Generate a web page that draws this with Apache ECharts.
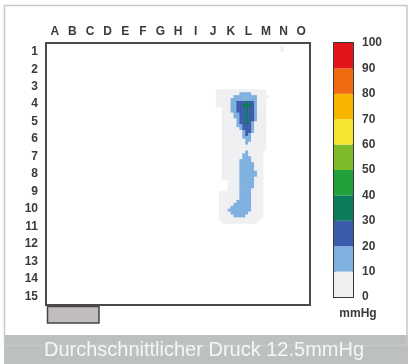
<!DOCTYPE html>
<html><head><meta charset="utf-8">
<script src="https://cdn.jsdelivr.net/npm/echarts@6/dist/echarts.min.js"></script>
<style>html,body{margin:0;padding:0;background:#fff}#c{width:408px;height:364px}</style>
</head><body><div id="c"></div>
<script>
// ---------- data ----------
const columnLabels = ['A','B','C','D','E','F','G','H','I','J','K','L','M','N','O'];
const rowLabels = ['1','2','3','4','5','6','7','8','9','10','11','12','13','14','15'];
const captionText = 'Durchschnittlicher Druck 12.5mmHg';
const unitText = 'mmHg';
const bandLowerBounds = [0,10,20,30,40,50,60,70,80,90];
const bandColors = ['#f0f0f3','#7fb0e0','#3b5cab','#0b7b5c','#22a03c','#7dbb2a','#f5e530','#f7b500','#f06a12','#e3141a'];
// fine sensor grid: 6 fine cells per labelled cell
const fineCellsPerAxis = 90;
// pressure bands, one char per fine cell
// '.' = no contact, '1' = 0-10, '2' = 10-20, '3' = 20-30, '4' = 30-40 mmHg
const mapColumnOffset = 57;
const mapRowOffset = 16;
const pressureRows = [
  '.11111111111111111..', // r16
  '.11111111222211111..',
  '.111111222222221111.',
  '.11111222222222111..',
  '.11111223334332111..', // r20
  '.11111223344432111..',
  '...111223334332111..',
  '...111223334332111..',
  '...111122334332111..',
  '...111122334332111..', // r25
  '...111112334332111..',
  '...111112334321111..',
  '...111112233321111..',
  '...111111233321111..',
  '...111111123321111..', // r30
  '...111111123211111..',
  '...111111122211111..',
  '...111111112211111..',
  '...111111112111111..',
  '...111111111111111..', // r35
  '...111111111111111..',
  '...11111111211111...',
  '...11111112211111...',
  '...11111112221111...',
  '...11111122221111...', // r40
  '...11111122222111...',
  '...11111122222111...',
  '...11111122222111...',
  '...11111122222211...',
  '...11111122222211...', // r45
  '...11111122222111...',
  '.....111122222111...',
  '.....111122222111...',
  '.....111122222111...',
  '.....111122221111...', // r50
  '..111111122221111...',
  '..111111122221111...',
  '..111111122221111...',
  '..111111222221111...',
  '..111112222221111...', // r55
  '..111122222221111...',
  '..111222222221111...',
  '..111122222211111...',
  '..111112222111111...',
  '..11111111111111....', // r60
  '...111111111111.....'
];
// a faint isolated contact near N1: [fineColumn, fineRow, band]
const isolatedCells = [[80, 1, '1'], [80, 2, '1']];

// ---------- build ----------
const fineCategories = Array.from({length: fineCellsPerAxis}, (_, i) => String(i));
function bandValue(ch) { return Number(ch) * 10 - 5; }
const heatData = [];
pressureRows.forEach((row, ri) => {
  for (let ci = 0; ci < row.length; ci++) {
    const ch = row[ci];
    if (ch !== '.') heatData.push([mapColumnOffset + ci, mapRowOffset + ri, bandValue(ch)]);
  }
});
isolatedCells.forEach(c => heatData.push([c[0], c[1], bandValue(c[2])]));

const labelFont = {color: '#3a3a3a', fontSize: 12, fontWeight: 'bold', fontFamily: 'Liberation Sans, Arial, sans-serif'};

const legendSeries = bandLowerBounds.map((lo, i) => ({
  type: 'bar', xAxisIndex: 2, yAxisIndex: 2, stack: 'scale',
  barWidth: '100%', data: [10], silent: true,
  itemStyle: {color: bandColors[i]}
}));

const chart = echarts.init(document.getElementById('c'), null, {renderer: 'canvas'});
chart.setOption({
  animation: false,
  backgroundColor: '#ffffff',
  graphic: [
    {type: 'rect', z: -5, shape: {x: 4, y: 335, width: 404, height: 29}, style: {fill: '#bdc0c0'}},
    {type: 'rect', z: -4, shape: {x: 4.5, y: 5.5, width: 402.5, height: 340}, style: {fill: 'none', stroke: '#c6c9c9', lineWidth: 1.5}},
    {type: 'rect', z: 5, shape: {x: 47.5, y: 306.5, width: 51.5, height: 16.5}, style: {fill: '#c1bdbd', stroke: '#454545', lineWidth: 1.5}}
  ],
  title: {
    text: captionText, left: 'center', top: 340, padding: 0, z: 10,
    textStyle: {color: '#f6f6f6', fontSize: 20, fontWeight: 'normal', fontFamily: 'Liberation Sans, Arial, sans-serif'}
  },
  grid: [
    {left: 46, top: 43, width: 264, height: 262, show: true, borderColor: '#4a4a4a', borderWidth: 2, backgroundColor: '#ffffff'},
    {left: 334, top: 43, width: 19, height: 254, show: true, borderColor: '#3a3a3a', borderWidth: 2}
  ],
  xAxis: [
    {type: 'category', gridIndex: 0, data: fineCategories, show: false},
    {type: 'category', gridIndex: 0, data: columnLabels, position: 'top',
      axisLine: {show: false}, axisTick: {show: false}, splitLine: {show: false},
      axisLabel: Object.assign({margin: 5, interval: 0}, labelFont)},
    {type: 'category', gridIndex: 1, data: ['scale'], show: false}
  ],
  yAxis: [
    {type: 'category', gridIndex: 0, data: fineCategories, inverse: true, show: false},
    {type: 'category', gridIndex: 0, data: rowLabels, inverse: true, position: 'left',
      axisLine: {show: false}, axisTick: {show: false}, splitLine: {show: false},
      axisLabel: Object.assign({margin: 8, interval: 0}, labelFont)},
    {type: 'value', gridIndex: 1, min: 0, max: 100, interval: 10, position: 'right',
      name: unitText, nameLocation: 'start', nameGap: 11,
      nameTextStyle: Object.assign({padding: [0, 0, 0, 10]}, labelFont),
      axisLine: {show: false}, axisTick: {show: false}, splitLine: {show: false},
      axisLabel: Object.assign({margin: 9}, labelFont)}
  ],
  visualMap: {
    type: 'piecewise', show: false, seriesIndex: 0,
    pieces: bandLowerBounds.map((lo, i) => ({gte: lo, lt: lo + 10, color: bandColors[i]}))
  },
  series: [
    {type: 'heatmap', xAxisIndex: 0, yAxisIndex: 0, data: heatData, silent: true,
      itemStyle: {borderWidth: 0}, emphasis: {disabled: true}}
  ].concat(legendSeries)
});
</script></body></html>
